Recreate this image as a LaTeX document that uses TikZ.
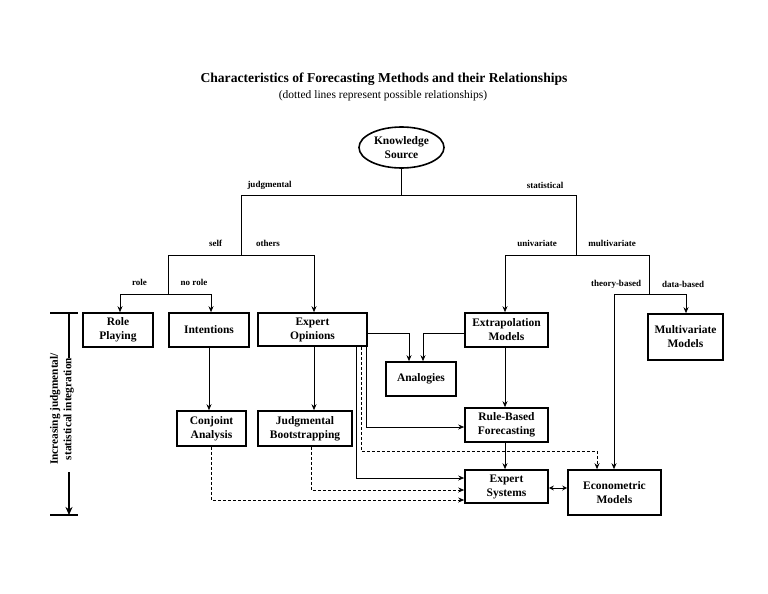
\documentclass[tikz,border=0pt]{standalone}
\usepackage{fontspec}
\setmainfont{Liberation Serif}
\usetikzlibrary{arrows.meta,shapes.geometric}
\begin{document}
\begin{tikzpicture}[x=1pt,y=-1pt,
  box/.style={draw, line width=1.6pt, font=\fontsize{11.5}{14}\selectfont\bfseries, align=center, inner sep=0pt},
  lab/.style={font=\fontsize{9}{10}\selectfont\bfseries, inner sep=0pt},
  con/.style={line width=0.8pt},
  arr/.style={con, -{Stealth[length=6pt,width=5pt,inset=2pt]}},
  dsh/.style={dash pattern=on 3pt off 2pt},
  axis/.style={line width=2pt},
]
\useasboundingbox (0,0) rectangle (768,594);

% titles
\node[font=\fontsize{13.6}{15}\selectfont\bfseries, inner sep=0pt] (title) at (384,79) {Characteristics of Forecasting Methods and their Relationships};
\node[font=\fontsize{11.5}{13}\selectfont, inner sep=0pt] (subtitle) at (383,96) {(dotted lines represent possible relationships)};

% root
\node[ellipse, draw, line width=1.6pt, minimum width=85pt, minimum height=41pt, inner sep=0pt, align=center, font=\fontsize{11.5}{14}\selectfont\bfseries] (ks) at (401.5,147.5) {Knowledge\\Source};

% boxes
\node[box, minimum width=70pt, minimum height=34pt] (rp) at (118,330) {Role\\Playing};
\node[box, minimum width=80pt, minimum height=34pt] (int) at (209,330) {Intentions};
\node[box, minimum width=109pt, minimum height=33pt] (eo) at (312.5,329.5) {Expert\\Opinions};
\node[box, minimum width=69pt, minimum height=35pt] (ca) at (211.5,428.5) {Conjoint\\Analysis};
\node[box, minimum width=94pt, minimum height=35pt] (jb) at (305,428.5) {Judgmental\\Bootstrapping};
\node[box, minimum width=70pt, minimum height=34pt] (an) at (421,379) {Analogies};
\node[box, minimum width=83pt, minimum height=34pt] (em) at (506.5,330) {Extrapolation\\Models};
\node[box, minimum width=75pt, minimum height=46pt] (mm) at (685.5,337) {Multivariate\\Models};
\node[box, minimum width=83pt, minimum height=34pt] (rb) at (506.5,425) {Rule-Based\\Forecasting};
\node[box, minimum width=83pt, minimum height=33pt] (es) at (506.5,486.5) {Expert\\Systems};
\node[box, minimum width=93pt, minimum height=45pt] (ec) at (614.5,492.5) {Econometric\\Models};

% tree junctions
\coordinate (a1) at (241,195);
\coordinate (a2) at (576,195);
\coordinate (b1) at (168,255);
\coordinate (b2) at (314,255);
\coordinate (c1) at (120,294);
\coordinate (c2) at (211,294);
\coordinate (d1) at (505,255);
\coordinate (d2) at (649,255);
\coordinate (e1) at (614,294);
\coordinate (e2) at (686,294);

\draw[con] (ks.south) -- (ks.south |- a1);
\draw[con] (a1) -- (a2);
\draw[con] (a1) -- (a1 |- b1);
\draw[con] (b1) -- (b2);
\draw[arr] (b2) -- (b2 |- eo.north);
\draw[con] (b1) -- (b1 |- c1);
\draw[con] (c1) -- (c2);
\draw[arr] (c1) -- (c1 |- rp.north);
\draw[arr] (c2) -- (c2 |- int.north);
\draw[con] (a2) -- (a2 |- d1);
\draw[con] (d1) -- (d2);
\draw[arr] (d1) -- (d1 |- em.north);
\draw[con] (d2) -- (d2 |- e1);
\draw[con] (e1) -- (e2);
\draw[arr] (e2) -- (e2 |- mm.north);
\draw[arr] (e1) -- (e1 |- ec.north);

% branch labels
\node[lab] (lj) at (269.5,185) {judgmental};
\node[lab] (ls) at (545,185) {statistical};
\node[lab] (lself) at (215.5,243) {self};
\node[lab] (loth) at (268,243) {others};
\node[lab] (lrole) at (139.5,282) {role};
\node[lab] (lnorole) at (194,282) {no role};
\node[lab] (luni) at (537,243) {univariate};
\node[lab] (lmulti) at (612,243) {multivariate};
\node[lab] (ltheory) at (616,284) {theory-based};
\node[lab] (ldata) at (683,284) {data-based};

% method links
\draw[arr] (int.south) -- (ca.north -| int.south);
\draw[arr] (eo.south -| b2) -- (jb.north -| b2);
\coordinate (p1) at (409,333);
\draw[arr] (eo.east |- p1) -- (p1) -- (p1 |- an.north);
\coordinate (p2) at (423,333);
\draw[arr] (em.west |- p2) -- (p2) -- (p2 |- an.north);
\draw[arr] (em.south -| d1) -- (rb.north -| d1);
\draw[arr] (rb.south -| d1) -- (es.north -| d1);

\coordinate (q1) at (366,427);
\draw[arr] (eo.south -| q1) -- (q1) -- (rb.west |- q1);
\coordinate (q2) at (361,451);
\coordinate (q3) at (597,451);
\draw[arr, dsh] (eo.south -| q2) -- (q2) -- (q3) -- (q3 |- ec.north);
\coordinate (q4) at (356,478);
\draw[arr] (eo.south -| q4) -- (q4) -- (es.west |- q4);
\coordinate (q5) at (311,490);
\draw[arr, dsh] (jb.south -| q5) -- (q5) -- (es.west |- q5);
\coordinate (q6) at (211,500);
\draw[arr, dsh] (ca.south -| q6) -- (q6) -- (es.west |- q6);

\coordinate (q7) at (548,488);
\draw[con, {Stealth[open,length=5pt,width=5pt]}-{Stealth[open,length=5pt,width=5pt]}] (es.east |- q7) -- (ec.west |- q7);

% left axis
\node[rotate=90, align=center, inner sep=0pt, font=\fontsize{11.3}{13.5}\selectfont\bfseries] (axlab) at (62,409) {Increasing judgmental/\\statistical integration};
\coordinate (axt) at (69,313);
\coordinate (axtm) at (69,358);
\coordinate (axbm) at (69,472);
\coordinate (axb) at (69,515);
\coordinate (axtl) at (50,313);
\coordinate (axtr) at (78,313);
\coordinate (axbl) at (50,515);
\coordinate (axbr) at (78,515);
\draw[axis] (axtl) -- (axtr);
\draw[axis] (axbl) -- (axbr);
\draw[axis] (axt) -- (axtm);
\draw[axis, -{Stealth[length=8pt,width=7pt,inset=2.5pt]}] (axbm) -- (axb);
\end{tikzpicture}
\end{document}
